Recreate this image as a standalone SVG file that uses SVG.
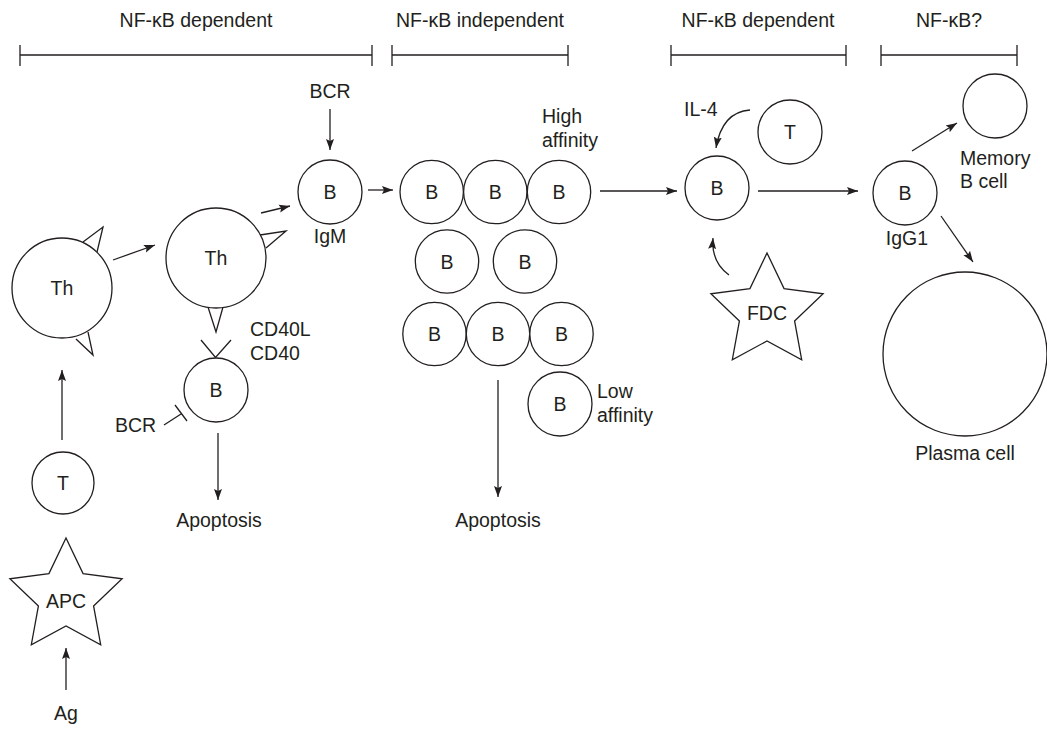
<svg xmlns="http://www.w3.org/2000/svg" xmlns:xlink="http://www.w3.org/1999/xlink" width="1047" height="740" viewBox="0 0 1047 740">
<style>
.c{fill:#fff;stroke:#231f20;stroke-width:1.3}
.l{fill:none;stroke:#231f20;stroke-width:1.3}
.a{fill:none;stroke:#231f20;stroke-width:1.3;marker-end:url(#ah)}
text{font-family:"Liberation Sans",Arial,Helvetica,sans-serif;font-size:19.5px;fill:#231f20}
.m{text-anchor:middle}
</style>
<defs>
<marker id="ah" markerWidth="12" markerHeight="10" refX="11" refY="5" orient="auto" markerUnits="userSpaceOnUse"><path d="M0,1 L11,5 L0,9 L2,5 z" fill="#231f20"/></marker>
<polygon id="star" points="0,-59 17.05,-23.46 56.11,-18.23 27.58,8.96 34.68,47.73 0,29 -34.68,47.73 -27.58,8.96 -56.11,-18.23 -17.05,-23.46" class="c"/>
</defs>
<rect width="1047" height="740" fill="#fff"/>

<g id="brackets">
<text class="m" x="196" y="27">NF-κB dependent</text>
<path class="l" d="M20,45 V66 M20,55 H372 M372,45 V66"/>
<text class="m" x="480" y="27">NF-κB independent</text>
<path class="l" d="M392,45 V66 M392,55 H568 M568,45 V66"/>
<text class="m" x="758" y="27">NF-κB dependent</text>
<path class="l" d="M671,45 V66 M671,55 H846 M846,45 V66"/>
<text class="m" x="949" y="27">NF-κB?</text>
<path class="l" d="M881,45 V66 M881,55 H1017 M1017,45 V66"/>
</g>

<g id="connectors">
<line class="a" x1="62" y1="440" x2="62" y2="370"/>
<line class="a" x1="66" y1="690" x2="66" y2="648"/>
<line class="a" x1="113" y1="260" x2="155" y2="245"/>
<line class="a" x1="261" y1="213" x2="290" y2="206"/>
<line class="a" x1="330" y1="109" x2="330" y2="150"/>
<line class="a" x1="368" y1="190" x2="393" y2="190"/>
<line class="a" x1="600" y1="191" x2="677" y2="191"/>
<line class="a" x1="218" y1="433" x2="218" y2="500"/>
<line class="a" x1="498" y1="380" x2="498" y2="497"/>
<path class="a" d="M750,110 Q722,112 716,148"/>
<path class="a" d="M729,275 Q711,262 713,238"/>
<line class="a" x1="758" y1="191" x2="858" y2="191"/>
<line class="a" x1="912" y1="151" x2="957" y2="123"/>
<line class="a" x1="941" y1="216" x2="973" y2="262"/>
<path class="l" d="M164,425 L181,414 M175,405 L187,421"/>
<polyline class="l" points="201,340 215.5,357.5 231,340"/>
</g>

<g id="Th1">
<path class="l" d="M83,242 L103,227 L97,252 M76,339 L93,355 L88,332"/>
<circle class="c" cx="62" cy="288" r="50"/>
<text class="m" x="62" y="295">Th</text>
</g>
<g id="Th2">
<path class="l" d="M260,235 L286,231 L266,248 M208,307 L216,332 L223,307"/>
<circle class="c" cx="216" cy="258" r="50"/>
<text class="m" x="216" y="265">Th</text>
</g>
<g id="T1">
<circle class="c" cx="63" cy="483" r="31"/>
<text class="m" x="63" y="490">T</text>
</g>
<g id="APC">
<use xlink:href="#star" x="66" y="597"/>
<text class="m" x="66" y="608">APC</text>
</g>
<g id="Ag"><text class="m" x="66" y="720">Ag</text></g>
<g id="BCR-left"><text x="115" y="432">BCR</text></g>
<g id="B-CD40">
<circle class="c" cx="216" cy="390" r="32"/>
<text class="m" x="216" y="397">B</text>
<text x="250" y="336">CD40L</text>
<text x="250" y="360">CD40</text>
</g>
<g id="Apoptosis1"><text class="m" x="219" y="527">Apoptosis</text></g>
<g id="BCR-top"><text class="m" x="330" y="98">BCR</text></g>
<g id="B-IgM">
<circle class="c" cx="330" cy="192" r="32"/>
<text class="m" x="330" y="199">B</text>
<text class="m" x="330" y="243">IgM</text>
</g>
<g id="cluster">
<circle class="c" cx="431.7" cy="192" r="31.7"/><text class="m" x="431.7" y="199">B</text>
<circle class="c" cx="495.3" cy="192" r="31.7"/><text class="m" x="495.3" y="199">B</text>
<circle class="c" cx="559" cy="192" r="31.7"/><text class="m" x="559" y="199">B</text>
<circle class="c" cx="447" cy="261.5" r="31.7"/><text class="m" x="447" y="268.5">B</text>
<circle class="c" cx="525" cy="261.5" r="31.7"/><text class="m" x="525" y="268.5">B</text>
<circle class="c" cx="434.5" cy="334" r="31.7"/><text class="m" x="434.5" y="341">B</text>
<circle class="c" cx="498" cy="334" r="31.7"/><text class="m" x="498" y="341">B</text>
<circle class="c" cx="561.5" cy="334" r="31.7"/><text class="m" x="561.5" y="341">B</text>
<text x="542" y="123">High</text>
<text x="542" y="147">affinity</text>
</g>
<g id="B-low">
<circle class="c" cx="560" cy="404" r="32"/>
<text class="m" x="560" y="411">B</text>
<text x="597" y="398">Low</text>
<text x="597" y="422">affinity</text>
</g>
<g id="Apoptosis2"><text class="m" x="498" y="527">Apoptosis</text></g>
<g id="B3">
<circle class="c" cx="717" cy="188" r="32"/>
<text class="m" x="717" y="195">B</text>
</g>
<g id="T2">
<circle class="c" cx="790" cy="132" r="32"/>
<text class="m" x="790" y="139">T</text>
<text x="684" y="116">IL-4</text>
</g>
<g id="FDC">
<use xlink:href="#star" x="767" y="312"/>
<text class="m" x="767" y="320">FDC</text>
</g>
<g id="B-IgG1">
<circle class="c" cx="905" cy="193" r="32"/>
<text class="m" x="905" y="200">B</text>
<text class="m" x="907" y="245">IgG1</text>
</g>
<g id="Memory">
<circle class="c" cx="995" cy="106" r="32"/>
<text x="960" y="165">Memory</text>
<text x="960" y="188">B cell</text>
</g>
<g id="Plasma">
<circle class="c" cx="965" cy="354" r="82"/>
<text class="m" x="965" y="460">Plasma cell</text>
</g>
</svg>
